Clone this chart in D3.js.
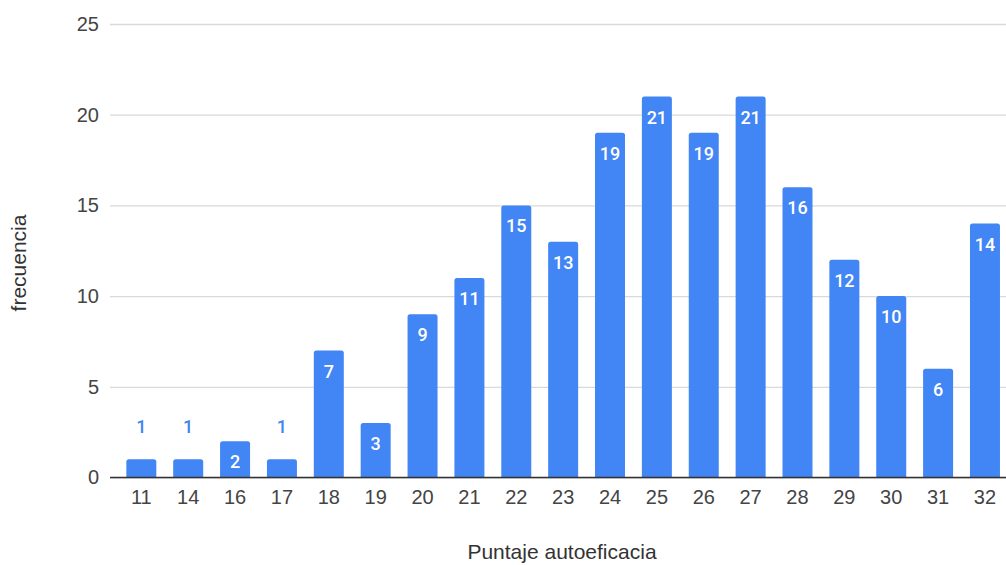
<!DOCTYPE html>
<html><head><meta charset="utf-8">
<script src="https://cdn.jsdelivr.net/npm/d3@7"></script>
<style>body{margin:0;background:#fff}svg{display:block}</style>
</head><body>
<svg id="c" width="1006" height="565"></svg>
<script>
const categories = ["11","14","16","17","18","19","20","21","22","23","24","25","26","27","28","29","30","31","32"];
const values = [1,1,2,1,7,3,9,11,15,13,19,21,19,21,16,12,10,6,14];
const yTicks = [0,5,10,15,20,25];
const xTitle = "Puntaje autoeficacia";
const yTitle = "frecuencia";

const svg = d3.select("#c");
const W = 1006, H = 565;
const x = d3.scaleBand().domain(categories).range([117.9, 1008.4]).paddingInner(0.36).paddingOuter(0.18);
const y = d3.scaleLinear().domain([0,25]).range([477.5, 24]);
const axisFont = "'Liberation Sans', Arial, sans-serif";
const color = "#4285F4";

// gridlines
const gy = d3.axisLeft(y).tickValues(yTicks).tickSize(-(W-110)).tickFormat(d3.format("d"));
const g = svg.append("g").attr("transform","translate(110,0)").call(gy);
g.select(".domain").remove();
g.selectAll(".tick line").attr("stroke","#d9d9d9").attr("stroke-width",1.3);
g.selectAll(".tick text").attr("x",-11).attr("font-family",axisFont).attr("font-size",20).attr("fill","#444");

// bars
const r = 2.5;
svg.append("g").selectAll("path").data(values).join("path")
  .attr("fill", color)
  .attr("d",(v,i)=>{
    const x0 = x(categories[i]), w = x.bandwidth(), y0 = y(v), y1 = y(0);
    return `M${x0},${y1}V${y0+r}Q${x0},${y0} ${x0+r},${y0}H${x0+w-r}Q${x0+w},${y0} ${x0+w},${y0+r}V${y1}Z`;
  });

// baseline
svg.append("line").attr("x1",110).attr("x2",W).attr("y1",y(0)).attr("y2",y(0)).attr("stroke","#333").attr("stroke-width",1.3);

// x axis labels
const xa = d3.axisBottom(x).tickSize(0).tickPadding(12);
const xg = svg.append("g").attr("transform",`translate(0,${y(0)})`).call(xa);
xg.select(".domain").remove();
xg.selectAll("text").attr("font-family",axisFont).attr("font-size",20).attr("fill","#444");

// data labels
svg.append("g").selectAll("text").data(values).join("text")
  .attr("x",(v,i)=>x(categories[i])+x.bandwidth()/2)
  .attr("y",v=> v>=2 ? y(v)+27 : y(v)-26)
  .attr("text-anchor","middle")
  .attr("font-family","Roboto, 'Liberation Sans', sans-serif")
  .attr("font-weight",500)
  .attr("font-size",18)
  .attr("fill",v=> v>=2 ? "#fff" : color)
  .text(v=>v);

// titles
svg.append("text").attr("x",562).attr("y",559).attr("text-anchor","middle")
  .attr("font-family",axisFont).attr("font-size",21).attr("fill","#333").text(xTitle);
svg.append("text").attr("transform","translate(26,263) rotate(-90)").attr("text-anchor","middle")
  .attr("font-family",axisFont).attr("font-size",21).attr("fill","#333").text(yTitle);
</script>
</body></html>
